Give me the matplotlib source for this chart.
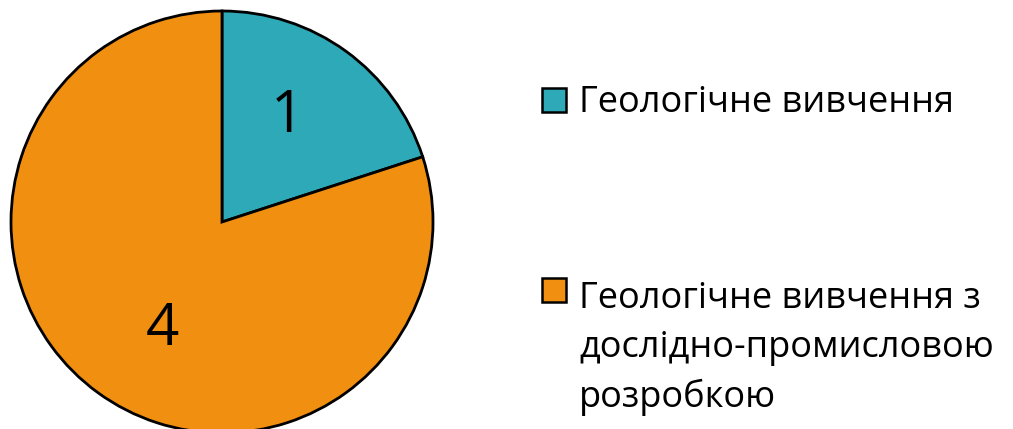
import matplotlib
matplotlib.use("Agg")
import matplotlib.pyplot as plt
from matplotlib.patches import Rectangle

# chart data
categories = ["Геологічне вивчення",
              "Геологічне вивчення з\nдослідно-промисловою\nрозробкою"]
values = [1, 4]
colors = ["#2EA9B7", "#F18F10"]

plt.rcParams['font.family'] = ['Open Sans', 'DejaVu Sans']

W, H = 1013, 429
fig = plt.figure(figsize=(W / 100, H / 100), dpi=100)

# pie axes: centre at (222, 222) px from top, radius 211 px
cx, cy, r = 222, 222, 211
ax = fig.add_axes([(cx - r) / W, (H - cy - r) / H, 2 * r / W, 2 * r / H])
total = sum(values)
wedges, texts, autotexts = ax.pie(
    values, colors=colors, startangle=90, counterclock=False, radius=1.0,
    autopct=lambda p: f"{p * total / 100:.0f}", pctdistance=0.59,
    wedgeprops=dict(edgecolor="black", linewidth=2),
    textprops=dict(fontsize=42, color="black"))
# value labels sit a bit off the wedge bisector in the original
label_pos = [(0.31, 0.50), (-0.28, -0.51)]
for t, pos in zip(autotexts, label_pos):
    t.set_position(pos)
ax.set_xlim(-1, 1)
ax.set_ylim(-1, 1)
ax.set_aspect("equal")
ax.axis("off")

# legend drawn by hand so the square sits on the first line
fs = 26
line_h = 52.5  # px between lines
first_baselines = [112, 302]
for label, col, yb in zip(categories, colors, first_baselines):
    n = label.count("\n")
    fig.patches.append(Rectangle((542 / W, (H - yb) / H), 24 / W, 24 / H,
                                 transform=fig.transFigure,
                                 facecolor=col, edgecolor="black",
                                 linewidth=1.8))
    # va='baseline' uses the last line, so shift down for multi-line labels
    t = fig.text(579 / W, (H - yb - n * line_h) / H, label, fontsize=fs,
                 va="baseline", ha="left", linespacing=1.46)

fig.savefig("out.png", dpi=100)
